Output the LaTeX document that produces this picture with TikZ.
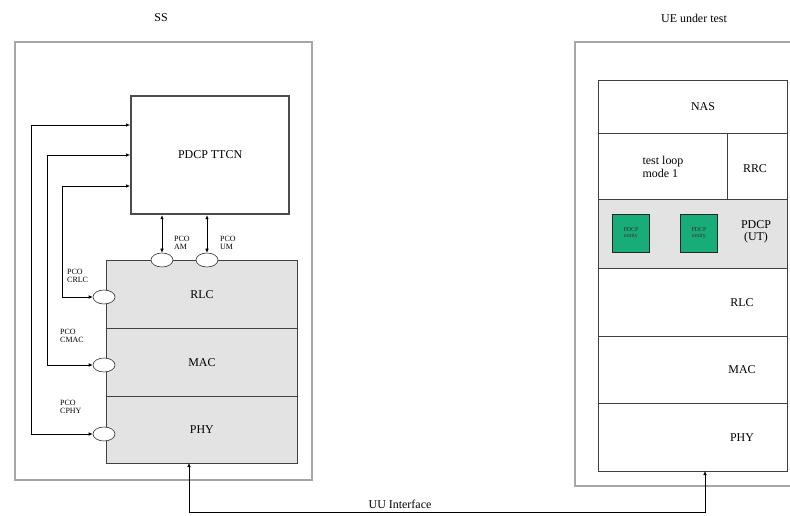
\documentclass[tikz,border=0pt]{standalone}
\usepackage{fontspec}
\setmainfont{Liberation Serif}
\usetikzlibrary{positioning,arrows.meta,shapes.geometric}
\definecolor{entgreen}{RGB}{24,172,120}

\begin{document}
\begin{tikzpicture}[x=1bp,y=-1bp,
  frame/.style={draw=gray!70,line width=1.3pt},
  layerbox/.style={draw=black!75,line width=0.8pt,inner sep=0pt,anchor=north west},
  pcoval/.style={ellipse,draw=black!80,fill=white,line width=0.6pt,minimum width=22bp,minimum height=14bp,inner sep=0pt},
  pcotext/.style={font=\fontsize{8}{8.5}\selectfont,align=left,inner sep=0pt},
  lbl/.style={font=\fontsize{12}{12.5}\selectfont,inner sep=0pt},
  link/.style={{Latex[length=4bp,width=3.5bp]}-{Latex[length=4bp,width=3.5bp]},line width=0.6pt},
  entity/.style={draw=black!85,fill=entgreen,line width=1pt,minimum width=37bp,minimum height=38bp,inner sep=0pt,
    font=\fontsize{6}{6.5}\selectfont,align=center,text=black!80}]
\useasboundingbox (0,0) rectangle (790,516);
\clip (0,0) rectangle (790,516);
% SS side
\node[lbl] (sslbl) at (161,18) {SS};
\draw[frame] (15,42) rectangle (312,480);
\node[layerbox,draw=gray!60!black,line width=2.2pt,minimum width=158bp,minimum height=118bp] (ttcn) at (130,95) {};
\node[lbl] (ttcntxt) at (ttcn.center) {PDCP TTCN};
\node[layerbox,fill=gray!22,minimum width=191bp,minimum height=68bp] (rlcL) at (106,260) {};
\node[layerbox,fill=gray!22,minimum width=191bp,minimum height=68bp] (macL) at (106,328) {};
\node[layerbox,fill=gray!22,minimum width=191bp,minimum height=67bp] (phyL) at (106,396) {};
\node[lbl] (rlcLt) at (rlcL.center) {RLC};
\node[lbl] (macLt) at (macL.center) {MAC};
\node[lbl] (phyLt) at (phyL.center) {PHY};
% PCOs
\node[pcoval] (am) at (162,260) {};
\node[pcoval] (um) at (207,260) {};
\node[pcoval] (crlc) at (104,297) {};
\node[pcoval] (cmac) at (104,365) {};
\node[pcoval] (cphy) at (104,434) {};
\node[pcotext,anchor=west] (amt) at (174,243) {PCO\\AM};
\node[pcotext,anchor=west] (umt) at (220,243) {PCO\\UM};
\node[pcotext,anchor=west] (crlct) at (67,276) {PCO\\CRLC};
\node[pcotext,anchor=west] (cmact) at (60,336) {PCO\\CMAC};
\node[pcotext,anchor=west] (cphyt) at (60,407) {PCO\\CPHY};
\draw[link] (am.north) -- (am.north |- ttcn.south);
\draw[link] (um.north) -- (um.north |- ttcn.south);
\coordinate (in1) at (130,125);
\coordinate (in2) at (130,155);
\coordinate (in3) at (130,186);
\draw[link] (cphy.west) -| (31,125) -- (in1);
\draw[link] (cmac.west) -| (47,155) -- (in2);
\draw[link] (crlc.west) -| (62,186) -- (in3);
% UE side
\node[lbl] (uelbl) at (694,18) {UE under test};
\draw[frame] (575,42) rectangle (810,486);
\node[layerbox,minimum width=189bp,minimum height=53bp] (nas) at (598,80) {};
\node[layerbox,minimum width=129bp,minimum height=66bp] (loop) at (598,133) {};
\node[layerbox,minimum width=60bp,minimum height=66bp] (rrc) at (727,133) {};
\node[layerbox,fill=gray!22,minimum width=189bp,minimum height=69bp] (pdcp) at (598,199) {};
\node[layerbox,minimum width=189bp,minimum height=68bp] (rlcR) at (598,268) {};
\node[layerbox,minimum width=189bp,minimum height=67bp] (macR) at (598,336) {};
\node[layerbox,minimum width=189bp,minimum height=68bp] (phyR) at (598,403) {};
\node[lbl] (nast) at (703,107) {NAS};
\node[lbl,align=left] (loopt) at (663,167) {test loop\\mode 1};
\node[lbl] (rrct) at (755,169) {RRC};
\node[lbl,align=center] (pdcpt) at (756,232) {PDCP\\(UT)};
\node[lbl] (rlcRt) at (742,303) {RLC};
\node[lbl] (macRt) at (742,370) {MAC};
\node[lbl] (phyRt) at (742,438) {PHY};
\node[entity] (ent1) at (631,233) {PDCP\\entity};
\node[entity] (ent2) at (699,233) {PDCP\\entity};
% Uu interface
\coordinate (uuL) at (189,463);
\coordinate (uuR) at (705,471);
\draw[link] (uuL) -- (189,512) -| (uuR);
\node[lbl] (uut) at (400,504) {UU Interface};
\end{tikzpicture}
\end{document}
